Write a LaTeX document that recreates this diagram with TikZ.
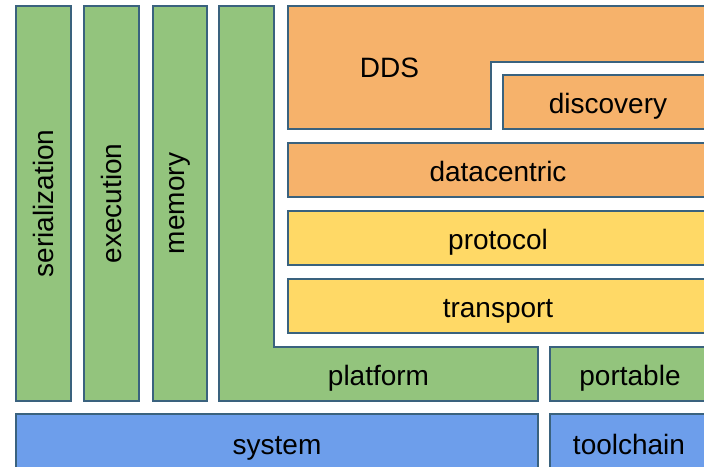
\documentclass[tikz,border=0pt]{standalone}
\usepackage{fontspec}
\setmainfont{Liberation Sans}
\definecolor{leaf}{RGB}{147,196,125}
\definecolor{peach}{RGB}{246,178,107}
\definecolor{sand}{RGB}{255,217,102}
\definecolor{sky}{RGB}{109,158,235}
\definecolor{edge}{RGB}{58,98,126}
\begin{document}
\begin{tikzpicture}[x=1pt,y=-1pt]
    \tikzstyle{blk} = [rectangle, draw=edge, line width=1.6pt, inner sep=0pt,
        outer sep=0pt, anchor=north west, text height=22pt, text depth=0pt,
        font=\fontsize{28}{32}\selectfont]
    \tikzstyle{col} = [blk, fill=leaf, minimum height=395pt, text height=,
        text depth=]
    \tikzstyle{lbl} = [inner sep=0pt, text height=22pt, text depth=0pt,
        font=\fontsize{28}{32}\selectfont]
    \tikzstyle{frame} = [draw=edge, line width=1.6pt, line join=miter]

    \useasboundingbox (0,0) rectangle (704,466);

    % left columns
    \node(serialization) [col, minimum width=55pt] at (16,6)
        {\rotatebox{90}{serialization}};
    \node(execution) [col, minimum width=55pt] at (84,6)
        {\rotatebox{90}{execution}};
    \node(memory) [col, minimum width=54pt] at (153,6)
        {\rotatebox{90}{memory}};

    % platform wraps round the stack
    \draw[frame, fill=leaf] (219,6) -- (274,6) -- (274,347) -- (538,347)
        -- (538,401) -- (219,401) -- cycle;
    \node(platform) [lbl] at (378.5,374) {platform};

    % DDS with discovery in its corner
    \draw[frame, fill=peach] (288,6) -- (712,6) -- (712,62) -- (491,62)
        -- (491,129) -- (288,129) -- cycle;
    \node(dds) [lbl] at (389.5,66) {DDS};
    \node(discovery) [blk, fill=peach, minimum width=210pt,
        minimum height=54pt] at (503,75) {discovery};

    \node(datacentric) [blk, fill=peach, minimum width=420pt,
        minimum height=54pt] at (288,143) {datacentric};
    \node(protocol) [blk, fill=sand, minimum width=420pt,
        minimum height=54pt] at (288,211) {protocol};
    \node(transport) [blk, fill=sand, minimum width=420pt,
        minimum height=54pt] at (288,279) {transport};

    \node(portable) [blk, fill=leaf, minimum width=160pt,
        minimum height=54pt] at (550,347) {portable};

    % bottom row
    \node(system) [blk, fill=sky, minimum width=522pt,
        minimum height=58pt] at (16,414) {system};
    \node(toolchain) [blk, fill=sky, minimum width=158pt,
        minimum height=58pt] at (550,414) {toolchain};
\end{tikzpicture}
\end{document}
